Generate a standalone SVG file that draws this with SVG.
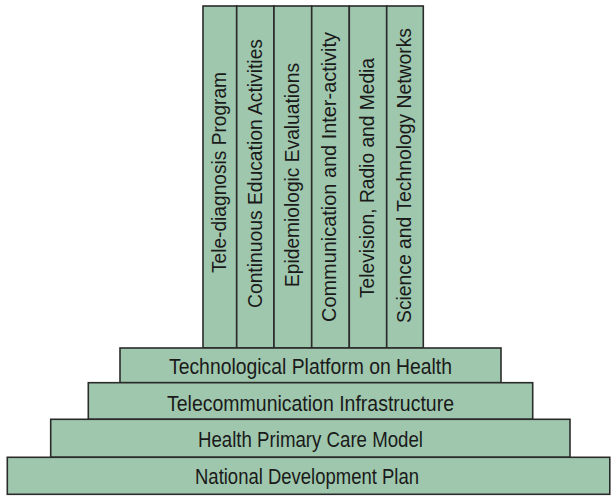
<svg xmlns="http://www.w3.org/2000/svg" width="611" height="496" viewBox="0 0 611 496">
<style>
.box{fill:#9fc7ad;stroke:#2b2b2b;stroke-width:1.6}
.t{font-family:"Liberation Sans",Arial,sans-serif;font-size:21.5px;fill:#1a1a1a}
.v{font-family:"Liberation Sans",Arial,sans-serif;font-size:21px;fill:#1a1a1a}
</style>
<rect width="611" height="496" fill="#ffffff"/>
<g id="col1"><rect class="box" x="203" y="6" width="33.7" height="342"/><text class="v" transform="translate(225.5,273) rotate(-90)" textLength="201" lengthAdjust="spacingAndGlyphs">Tele-diagnosis Program</text></g>
<g id="col2"><rect class="box" x="236.7" y="6" width="37.3" height="342"/><text class="v" transform="translate(261.5,308) rotate(-90)" textLength="269" lengthAdjust="spacingAndGlyphs">Continuous Education Activities</text></g>
<g id="col3"><rect class="box" x="274" y="6" width="37.7" height="342"/><text class="v" transform="translate(298.5,287) rotate(-90)" textLength="224" lengthAdjust="spacingAndGlyphs">Epidemiologic Evaluations</text></g>
<g id="col4"><rect class="box" x="311.7" y="6" width="37.6" height="342"/><text class="v" transform="translate(336,322) rotate(-90)" textLength="290" lengthAdjust="spacingAndGlyphs">Communication and Inter-activity</text></g>
<g id="col5"><rect class="box" x="349.3" y="6" width="37.4" height="342"/><text class="v" transform="translate(373.5,298) rotate(-90)" textLength="240" lengthAdjust="spacingAndGlyphs">Television, Radio and Media</text></g>
<g id="col6"><rect class="box" x="386.7" y="6" width="36.6" height="342"/><text class="v" transform="translate(410.5,323) rotate(-90)" textLength="295" lengthAdjust="spacingAndGlyphs">Science and Technology Networks</text></g>
<g id="platform"><rect class="box" x="120" y="348" width="381" height="34.7"/><text class="t" x="169" y="373.5" textLength="283" lengthAdjust="spacingAndGlyphs">Technological Platform on Health</text></g>
<g id="telecom"><rect class="box" x="88.3" y="382.7" width="444.4" height="36.6"/><text class="t" x="167" y="411" textLength="287" lengthAdjust="spacingAndGlyphs">Telecommunication Infrastructure</text></g>
<g id="health"><rect class="box" x="50.7" y="419.3" width="519.3" height="38"/><text class="t" x="198" y="447" textLength="225" lengthAdjust="spacingAndGlyphs">Health Primary Care Model</text></g>
<g id="national"><rect class="box" x="7.3" y="457.3" width="602.5" height="37"/><text class="t" x="195" y="483.5" textLength="224" lengthAdjust="spacingAndGlyphs">National Development Plan</text></g>
<g id="connectors"></g>
</svg>
